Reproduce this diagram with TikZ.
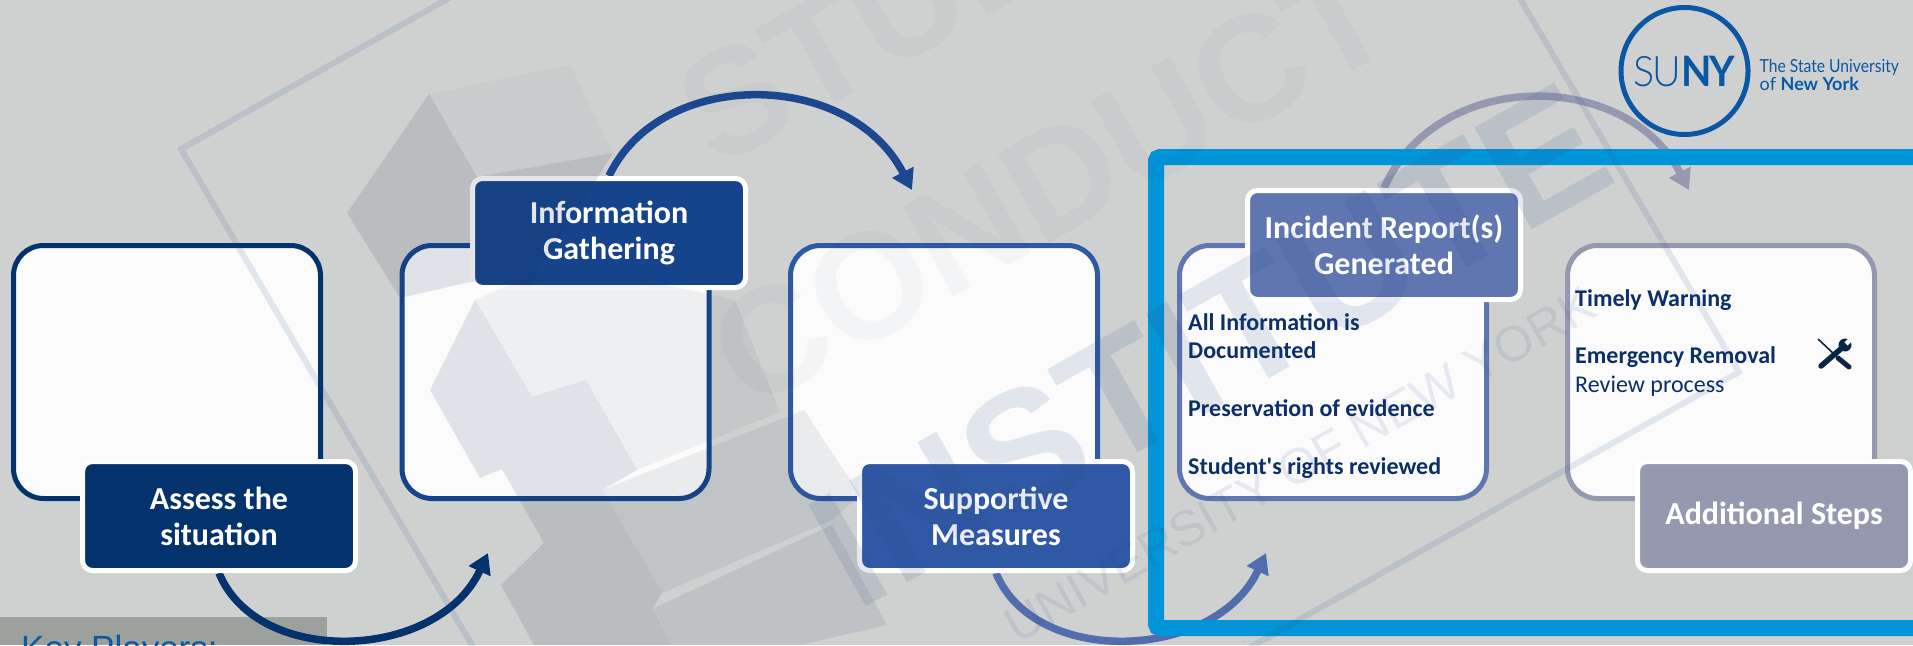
\documentclass[tikz,border=0pt]{standalone}
\usepackage{fontspec}
\usetikzlibrary{arrows.meta,positioning}
\setmainfont{Carlito}
\newfontfamily\logofont{Lato}
\newfontfamily\logonarrow[FakeStretch=0.87]{Lato}
\newfontfamily\logotight[LetterSpace=-5,FakeStretch=0.94]{Lato}
\newfontfamily\logolight[UprightFont=* Light,LetterSpace=-5,FakeStretch=0.94]{Lato}
\newfontfamily\markfont{Liberation Sans}

\definecolor{bgray}{HTML}{CFD1D0}
\definecolor{boxfill}{HTML}{FBFBFB}
\definecolor{navy}{HTML}{03326C}
\definecolor{royal}{HTML}{16448C}
\definecolor{cobalt}{HTML}{2F58A5}
\definecolor{slateblue}{HTML}{5F76B0}
\definecolor{steelgray}{HTML}{9599AF}
\definecolor{framecyan}{HTML}{0094D8}
\definecolor{inktext}{HTML}{0B2F66}
\definecolor{keygray}{HTML}{9CA19D}
\definecolor{sunyblue}{HTML}{0B57A4}
\definecolor{markink}{HTML}{1B2F52}
\definecolor{markblue}{HTML}{2A4A8A}
\definecolor{toolink}{HTML}{0B2545}
\colorlet{arctwo}{royal!80!cobalt}
\colorlet{arcthree}{slateblue!70!cobalt}

\pgfdeclarelayer{under}
\pgfsetlayers{under,main}

\tikzset{
  stagebox/.style={draw=#1, line width=5, fill=boxfill, rounded corners=30, minimum width=307, minimum height=253, inner sep=0},
  stagelab/.style={draw=white, line width=5, fill=#1, rounded corners=10, minimum width=273, minimum height=109, inner sep=0, text=white, align=center, font=\fontsize{32}{36}\selectfont\bfseries},
  looparc/.style={draw=#1, line width=7.5, -{Triangle[length=20,width=23]}},
  notetext/.style={text=inktext, align=left, anchor=north west, inner sep=0, font=\fontsize{24}{28.8}\selectfont},
  markshape/.style={fill=markink, opacity=#1, draw=none},
  markword/.style={text=markink, opacity=#1, rotate=29.5, inner sep=0}
}

\begin{document}
\begin{tikzpicture}[x=1pt,y=-1pt]
\useasboundingbox (0,0) rectangle (1913,645);
\clip (0,0) rectangle (1913,645);

\coordinate (tip1) at (488,553);
\coordinate (tip2) at (912,190);
\coordinate (tip3) at (1266,553);
\coordinate (tip4) at (1689,190);

\node[stagelab=navy] (lab1) at (219,516) {Assess the\\situation};
\node[stagelab=royal] (lab2) at (609,233) {Information\\Gathering};
\node[stagelab=cobalt] (lab3) at (996,516) {Supportive\\Measures};
\node[stagelab=slateblue] (lab4) at (1384,245) {Incident Report(s)\\Generated};
\node[stagelab=steelgray] (lab5) at (1774,516) {\raisebox{-3pt}{Additional Steps}};

\begin{pgfonlayer}{under}
\fill[bgray] (0,0) rectangle (1913,645);
\node[anchor=north west, fill=keygray, minimum width=327, minimum height=28, inner sep=0] (keystrip) at (0,617) {};
\node[anchor=base west, inner sep=0, text=sunyblue, font=\markfont\fontsize{35}{35}\selectfont] (keyplayers) at (21,660) {Key Players:};

% five stages
\node[stagebox=navy] (box1) at (167,372) {};
\node[stagebox=royal] (box2) at (555.5,372) {};
\node[stagebox=cobalt] (box3) at (944,372) {};
\node[stagebox=slateblue] (box4) at (1333,372) {};
\node[stagebox=steelgray] (box5) at (1721,372) {};

\draw[looparc=navy] (lab1.south) .. controls (258,668) and (438,661) .. (tip1);
\draw[looparc=arctwo] (lab2.north) .. controls (660,68) and (849,68) .. (tip2);
\draw[looparc=arcthree] (lab3.south) .. controls (1035,668) and (1216,661) .. (tip3);
\draw[looparc=steelgray] (lab4.north) .. controls (1437,68) and (1626,68) .. (tip4);
\end{pgfonlayer}

\node[notetext] (info) at (1188,313) {\bfseries All Information is\\\bfseries Documented\\[28.8pt]\bfseries Preservation of evidence\\[28.8pt]\bfseries Student\textquotesingle s rights reviewed};
\node[notetext] (steps) at (1575,289) {\bfseries Timely Warning\\[28.8pt]\bfseries Emergency Removal\\Review process};

% tools
\draw[toolink, line width=1.6] (1818,339) -- (1835,355);
\draw[toolink, line width=5, line cap=round] (1838,358) -- (1849,367);
\draw[toolink, line width=5.5, line cap=round] (1821,366) -- (1843,347);
\fill[toolink] (1845,345) circle (6.5);
\draw[boxfill, line width=4.5] (1846,344) -- (1854,336);

\draw[framecyan, line width=16, rounded corners=4] (1156,157) rectangle (1925,628);

% watermark
\fill[markshape=.12] (429,94) -- (347,213) -- (400,298) -- (470,282) -- (530,285) -- (613,153) -- (477,177) -- cycle;
\fill[markshape=.03] (429,94) -- (570,65) -- (613,153) -- (477,177) -- cycle;
\fill[markshape=.06] (475,300) -- (560,262) -- (735,300) -- (780,412) -- (637,470) -- (586,380) -- (532,397) -- cycle;
\fill[markshape=.12] (475,300) -- (430,390) -- (480,478) -- (502,469) -- (544,543) -- (501,585) -- (534,645) -- (671,645) -- (653,608) -- (662,593) -- (602,490) -- (637,470) -- (586,380) -- (532,397) -- cycle;
\fill[markshape=.08] (602,490) -- (804,410) -- (860,495) -- (832,520) -- (662,593) -- cycle;
\fill[markshape=.09] (654,608) -- (832,525) -- (887,625) -- (800,645) -- (671,645) -- cycle;
\draw[markblue, opacity=.12, line width=6] (181,149) -- (1254,-455) -- (1739,372) -- (666,976) -- cycle;

\node[markword=.03, font=\markfont\bfseries\fontsize{150}{150}\selectfont] (word1) at (1000,-50) {STUDENT};
\node[markword=.03, font=\markfont\bfseries\fontsize{150}{150}\selectfont] (word2) at (1051,183) {CONDUCT};
\node[markword=.12, text=markblue, font=\markfont\bfseries\fontsize{170}{170}\selectfont] (word3) at (1210,345) {INSTITUTE};
\node[markword=.1, text=markblue, font=\markfont\fontsize{50}{50}\selectfont] (word4) at (1300,465) {UNIVERSITY OF NEW YORK};

% logo
\node[circle, draw=sunyblue, line width=5, minimum size=127, inner sep=0] (logoring) at (1684.5,71) {};
\node[text=sunyblue, inner sep=0, font=\fontsize{42}{42}\selectfont] (logoname) at (logoring) {{\logolight SU}{\logotight\bfseries NY}};
\node[right=9 of logoring, yshift=-4, text=sunyblue, inner sep=0, align=left, font=\fontsize{18}{17.5}\selectfont] (logotag) {\logonarrow The State University\\\logofont of {\bfseries New York}};
\end{tikzpicture}
\end{document}
